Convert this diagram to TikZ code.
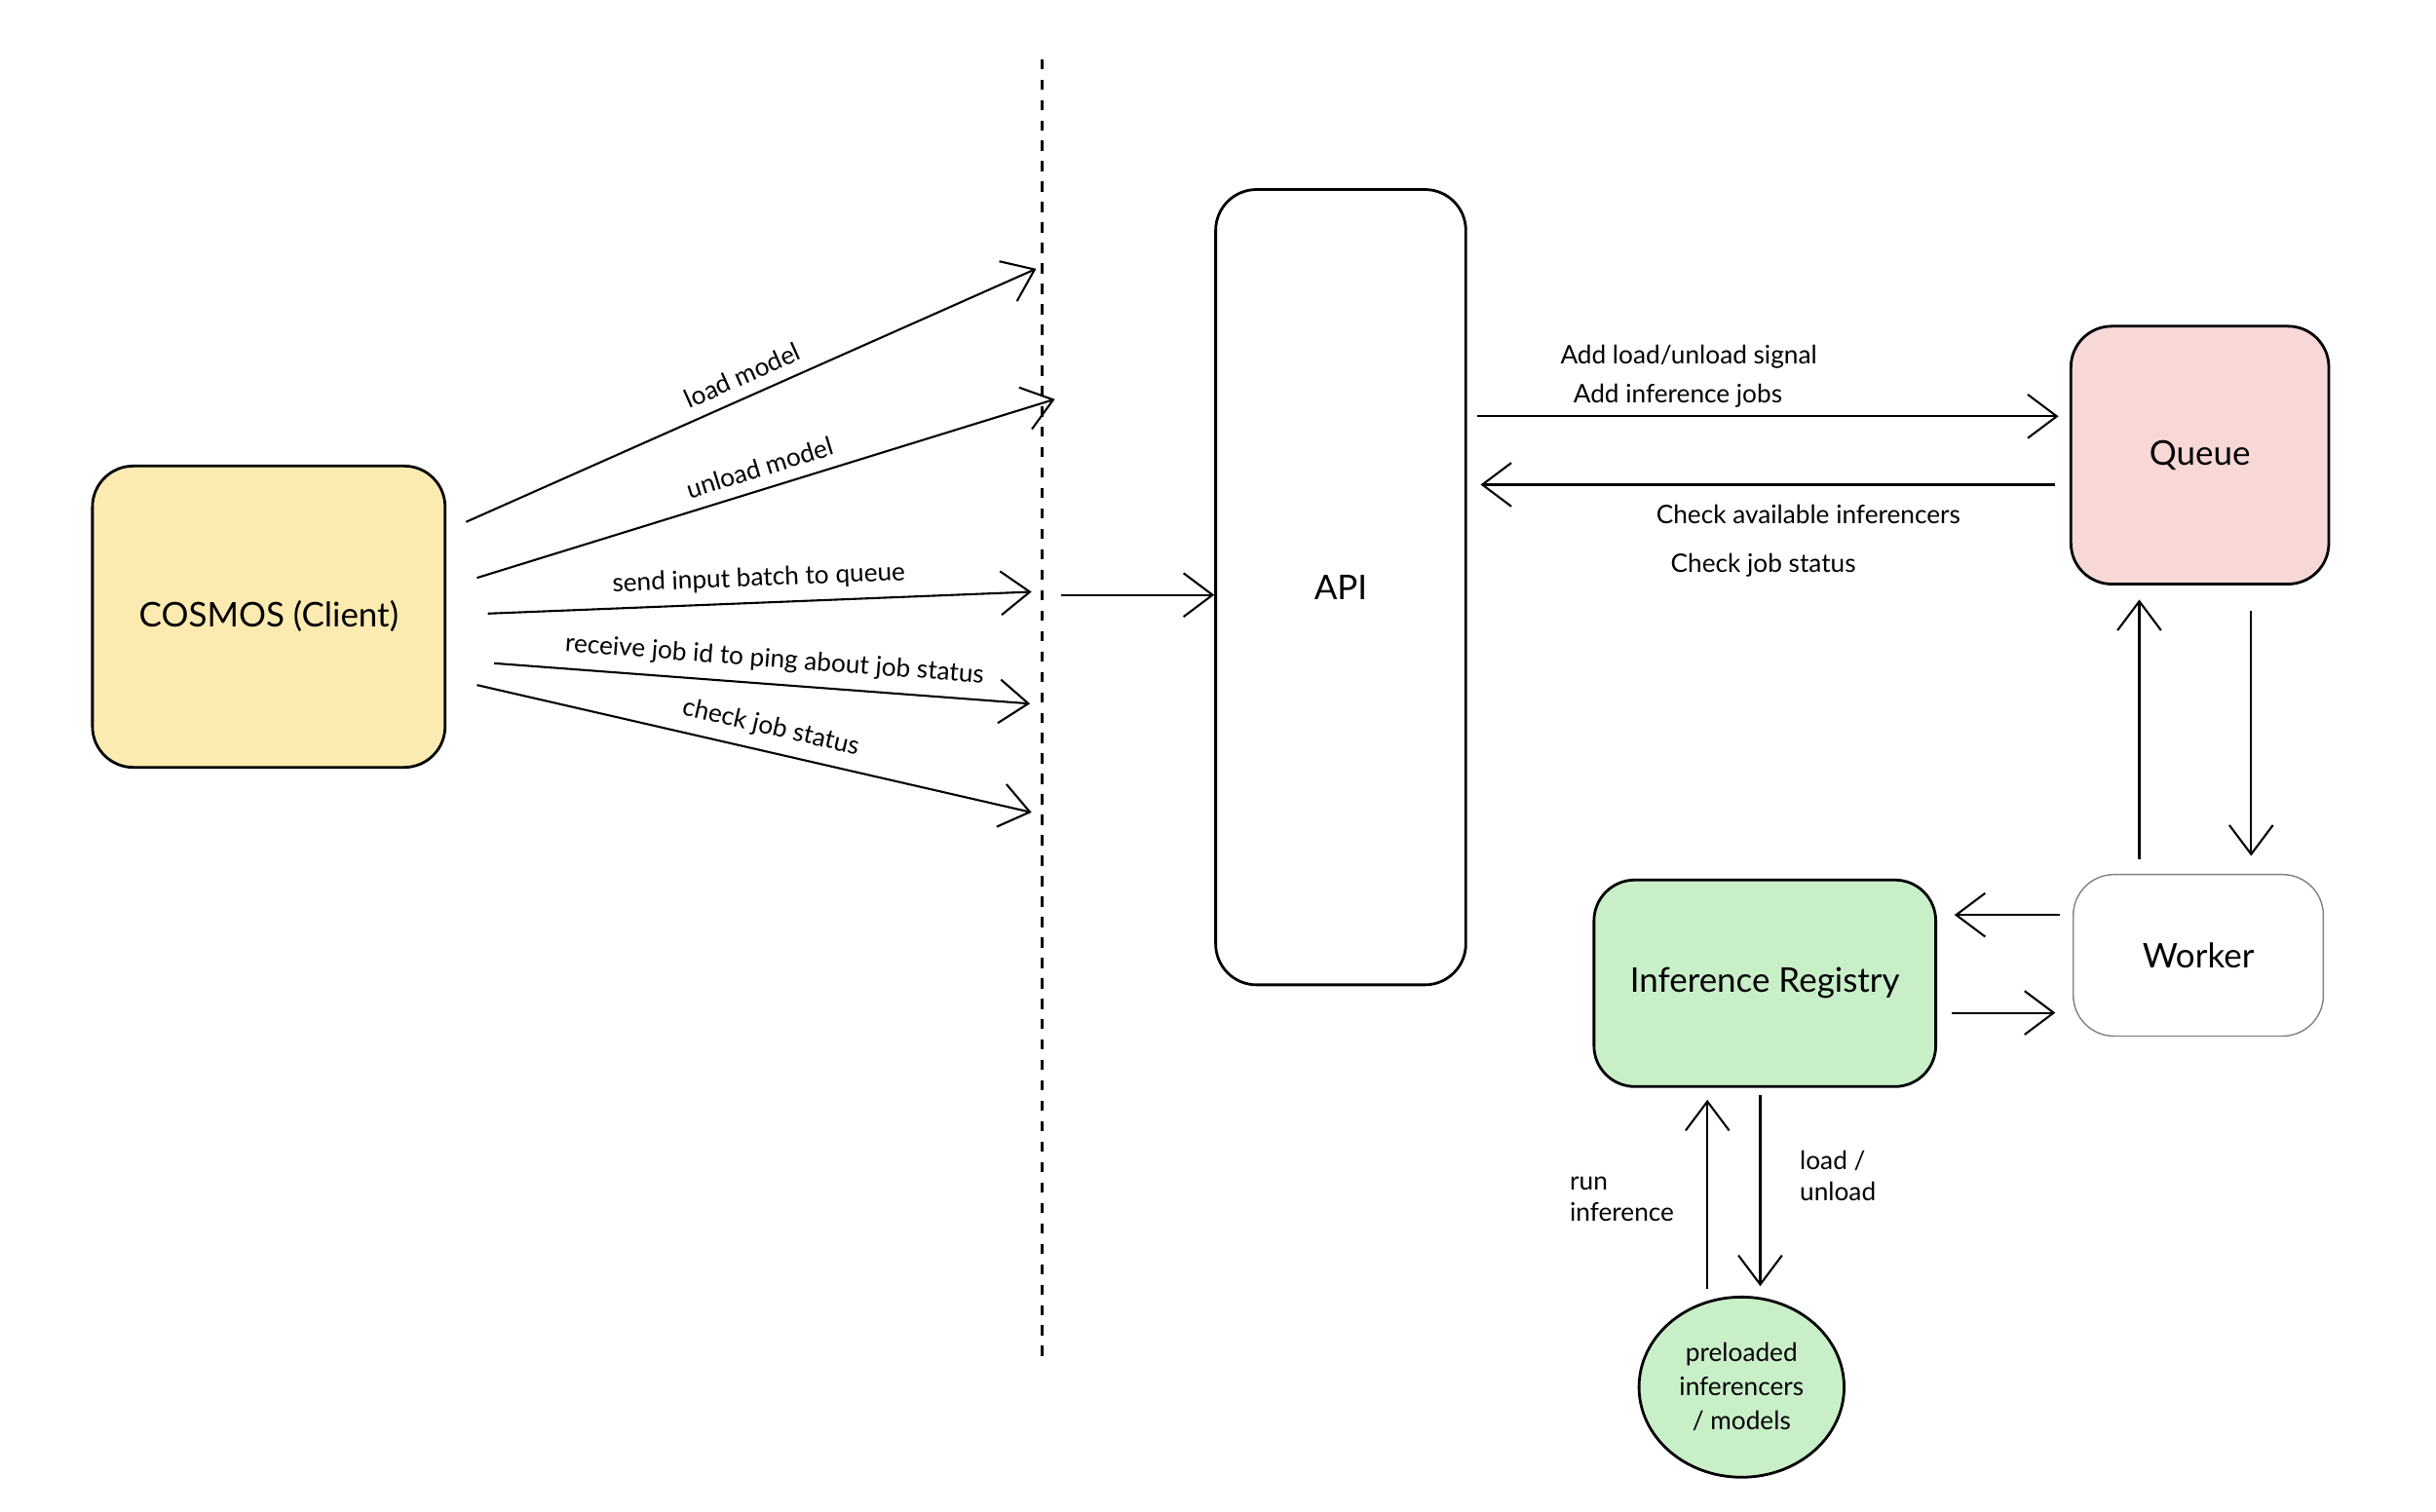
\documentclass[tikz,border=0pt]{standalone}
\usepackage{fontspec}
\setmainfont{Lato}
\usetikzlibrary{arrows.meta,positioning,shapes.geometric}
\definecolor{clientfill}{HTML}{FCEBB0}
\definecolor{queuefill}{HTML}{F8D7D7}
\definecolor{regfill}{HTML}{C8EFC8}
\tikzset{
  box/.style={draw, thick, rounded corners=12pt, inner sep=0pt, font=\fontsize{10}{12}\selectfont},
  flow/.style={draw, semithick, -{Straight Barb[length=3mm,width=4.5mm]}},
  lbl/.style={font=\fontsize{7.5}{9}\selectfont, align=left}
}
\begin{document}
\begin{tikzpicture}[x=0.01603cm, y=-0.01603cm]
            \useasboundingbox (0,0) rectangle (1568,973);
            % boxes
            \node[box, fill=clientfill, minimum width=227*0.01603cm, minimum height=194*0.01603cm] (client) at (173,397) {COSMOS (Client)};
            \node[box, minimum width=161*0.01603cm, minimum height=512*0.01603cm] (api) at (863,378) {API};
            \node[box, fill=queuefill, minimum width=166*0.01603cm, minimum height=166*0.01603cm] (queue) at (1416,293) {Queue};
            \node[box, draw=gray, thin, minimum width=161*0.01603cm, minimum height=104*0.01603cm] (worker) at (1415,615) {Worker};
            \node[box, fill=regfill, minimum width=220*0.01603cm, minimum height=133*0.01603cm] (registry) at (1136,633) {Inference Registry};
            \node[draw, thick, ellipse, fill=regfill, minimum width=132*0.01603cm, minimum height=116*0.01603cm, inner sep=0pt, align=center, font=\fontsize{7.5}{10}\selectfont] (models) at (1121,893) {preloaded\\inferencers\\/ models};
            % boundary
            \coordinate (wtop) at (671,38);
            \coordinate (wbot) at (671,875);
            \draw[thick, dashed] (wtop) -- (wbot);
            % client calls
            \coordinate (c1) at (300,336);  \coordinate (w1) at (667,173);
            \coordinate (c2) at (307,372);  \coordinate (w2) at (679,257);
            \coordinate (c3) at (314,395);  \coordinate (w3) at (664,381);
            \coordinate (c4) at (318,427);  \coordinate (w4) at (663,453);
            \coordinate (c5) at (307,441);  \coordinate (w5) at (664,523);
            \draw[flow] (c1) -- node[lbl, sloped, above] {load model} (w1);
            \draw[flow] (c2) -- node[lbl, sloped, above] {unload model} (w2);
            \draw[flow] (c3) -- node[lbl, sloped, above] {send input batch to queue} (w3);
            \draw[flow] (c4) -- node[lbl, sloped, above, pos=0.52] {receive job id to ping about job status} (w4);
            \draw[flow] (c5) -- node[lbl, sloped, above, pos=0.52] {check job status} (w5);
            \coordinate (gate) at (683,383);
            \draw[flow] (gate) -- (api.west |- gate);
            % api <-> queue
            \draw[flow] (951,268) -- (1325,268);
            \node[lbl] (addsig) at (1087,230) {Add load/unload signal};
            \node[lbl] (addjob) at (1080,255) {Add inference jobs};
            \draw[flow] (1323,312) -- (953,312);
            \node[lbl] (chkinf) at (1164,331) {Check available inferencers};
            \node[lbl] (chkjob) at (1135,364) {Check job status};
            % queue <-> worker
            \draw[flow] (1377,553) -- (1377,386);
            \draw[flow] (1449,393) -- (1449,551);
            % worker <-> registry
            \draw[flow] (1326,589) -- (1258,589);
            \draw[flow] (1256,652) -- (1323,652);
            % registry <-> models
            \draw[flow] (1099,830) -- (1099,708);
            \draw[flow] (1133,705) -- (1133,828);
            \node[lbl] (runinf) at (1044,772) {run\\inference};
            \node[lbl] (ldunld) at (1183,757) {load /\\unload};
\end{tikzpicture}
\end{document}
